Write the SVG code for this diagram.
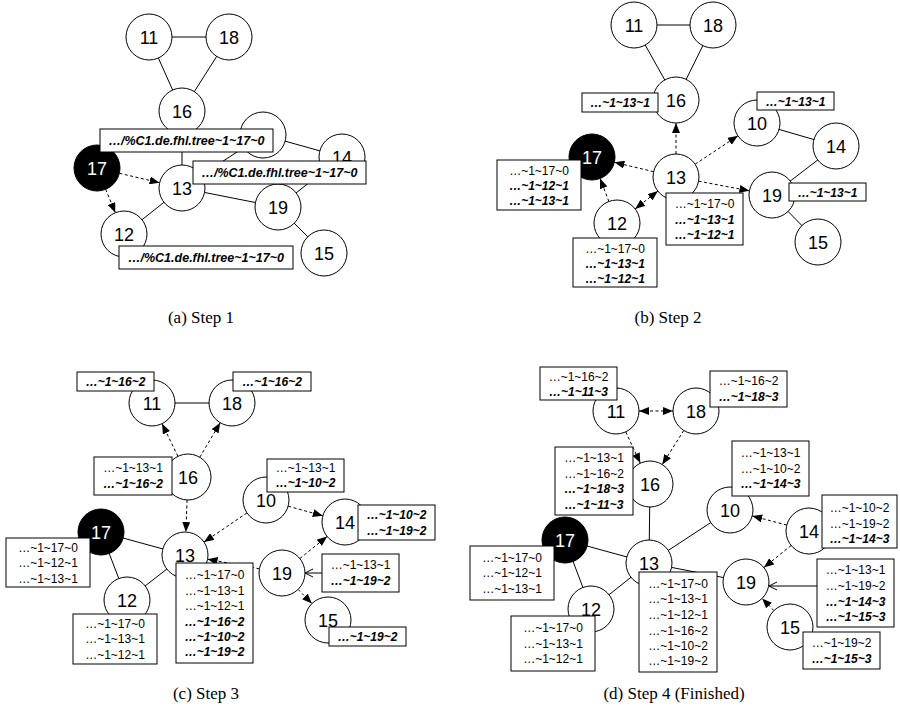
<svg xmlns="http://www.w3.org/2000/svg" width="900" height="711" viewBox="0 0 900 711">
<style>
.node circle{fill:#fff;stroke:#000;stroke-width:1}
.node text{font-family:"Liberation Sans",Arial,sans-serif;font-size:18px;text-anchor:middle;fill:#000}
.black circle{fill:#000}
.black text{fill:#fff}
.e line{stroke:#000;stroke-width:1;fill:none}
.e .d{stroke-dasharray:3,2.5;marker-end:url(#ah)}
.e .dd{stroke-dasharray:3,2.5;marker-end:url(#ah);marker-start:url(#ahs)}
.e .p{marker-end:url(#oh)}
.lb rect{fill:#fff;stroke:#000;stroke-width:1}
.lb text{font-family:"Liberation Sans",Arial,sans-serif;font-size:12px;text-anchor:middle;fill:#000}
.lb .b{font-weight:bold;font-style:italic}
.lb .big{font-size:12.5px}
.cap{font-family:"Liberation Serif","Times New Roman",serif;font-size:17px;text-anchor:middle;fill:#000}
</style>
<defs>
<marker id="ah" viewBox="0 0 10 8" refX="10" refY="4" markerWidth="10" markerHeight="8" orient="auto" markerUnits="userSpaceOnUse"><path d="M0,0 L10,4 L0,8 z" fill="#000"/></marker>
<marker id="ahs" viewBox="0 0 10 8" refX="10" refY="4" markerWidth="10" markerHeight="8" orient="auto-start-reverse" markerUnits="userSpaceOnUse"><path d="M0,0 L10,4 L0,8 z" fill="#000"/></marker>
<marker id="oh" viewBox="0 0 10 10" refX="9" refY="5" markerWidth="10" markerHeight="10" orient="auto" markerUnits="userSpaceOnUse"><path d="M1,1 L9,5 L1,9" fill="none" stroke="#000" stroke-width="1"/></marker>
</defs>
<rect width="900" height="711" fill="#fff"/>

<!-- Panel A -->
<g id="panel-a">
<g id="a-edges" class="e">
<line x1="149" y1="37" x2="229" y2="37"/>
<line x1="149" y1="37" x2="182" y2="111"/>
<line x1="229" y1="37" x2="182" y2="111"/>
<line x1="182" y1="111" x2="182" y2="188"/>
<line x1="182" y1="188" x2="263" y2="135"/>
<line x1="263" y1="135" x2="342" y2="157"/>
<line x1="342" y1="157" x2="278" y2="207"/>
<line x1="182" y1="188" x2="278" y2="207"/>
<line x1="278" y1="207" x2="324" y2="253"/>
<line x1="182" y1="188" x2="124" y2="234"/>
<line class="d" x1="119.4" y1="173.3" x2="159.6" y2="182.7"/>
<line class="d" x1="105.7" y1="189.3" x2="115.3" y2="212.7"/>
</g>
<g id="a-n11" class="node"><circle cx="149" cy="37" r="23"/><text x="149" y="43.5">11</text></g>
<g id="a-n18" class="node"><circle cx="229" cy="37" r="23"/><text x="229" y="43.5">18</text></g>
<g id="a-n16" class="node"><circle cx="182" cy="111" r="23"/><text x="182" y="117.5">16</text></g>
<g id="a-n10" class="node"><circle cx="263" cy="135" r="23"/><text x="263" y="141.5">10</text></g>
<g id="a-n14" class="node"><circle cx="342" cy="157" r="23"/><text x="342" y="163.5">14</text></g>
<g id="a-n17" class="node black"><circle cx="97" cy="168" r="23"/><text x="97" y="174.5">17</text></g>
<g id="a-n13" class="node"><circle cx="182" cy="188" r="23"/><text x="182" y="194.5">13</text></g>
<g id="a-n19" class="node"><circle cx="278" cy="207" r="23"/><text x="278" y="213.5">19</text></g>
<g id="a-n12" class="node"><circle cx="124" cy="234" r="23"/><text x="124" y="240.5">12</text></g>
<g id="a-n15" class="node"><circle cx="324" cy="253" r="23"/><text x="324" y="259.5">15</text></g>
<g id="a-labels" class="lb">
<g id="a-l1"><rect x="100" y="129" width="173" height="23"/><text class="b big" x="186.5" y="145">…/%C1.de.fhl.tree~1~17~0</text></g>
<g id="a-l2"><rect x="193" y="161" width="173" height="23"/><text class="b big" x="279.5" y="177">…/%C1.de.fhl.tree~1~17~0</text></g>
<g id="a-l3"><rect x="119" y="246" width="174" height="23"/><text class="b big" x="206" y="262">…/%C1.de.fhl.tree~1~17~0</text></g>
</g>
<text class="cap" x="201" y="323">(a) Step 1</text>
</g>

<!-- Panel B -->
<g id="panel-b">
<g id="b-edges" class="e">
<line x1="634" y1="25" x2="713" y2="25"/>
<line x1="634" y1="25" x2="676" y2="100"/>
<line x1="713" y1="25" x2="676" y2="100"/>
<line x1="757" y1="123" x2="836" y2="146"/>
<line x1="836" y1="146" x2="772" y2="195"/>
<line x1="772" y1="195" x2="818" y2="242"/>
<line class="d" x1="676" y1="154" x2="676" y2="123"/>
<line class="d" x1="653.6" y1="171.7" x2="614.4" y2="162.3"/>
<line class="d" x1="608.9" y1="201.5" x2="600.1" y2="178.5"/>
<line class="dd" x1="635.1" y1="208.9" x2="657.9" y2="191.1"/>
<line class="d" x1="695.1" y1="164.2" x2="737.9" y2="135.8"/>
<line class="d" x1="698.6" y1="181.2" x2="749.4" y2="190.8"/>
</g>
<g id="b-n11" class="node"><circle cx="634" cy="25" r="23"/><text x="634" y="31.5">11</text></g>
<g id="b-n18" class="node"><circle cx="713" cy="25" r="23"/><text x="713" y="31.5">18</text></g>
<g id="b-n16" class="node"><circle cx="676" cy="100" r="23"/><text x="676" y="106.5">16</text></g>
<g id="b-n10" class="node"><circle cx="757" cy="123" r="23"/><text x="757" y="129.5">10</text></g>
<g id="b-n14" class="node"><circle cx="836" cy="146" r="23"/><text x="836" y="152.5">14</text></g>
<g id="b-n17" class="node black"><circle cx="592" cy="157" r="23"/><text x="592" y="163.5">17</text></g>
<g id="b-n13" class="node"><circle cx="676" cy="177" r="23"/><text x="676" y="183.5">13</text></g>
<g id="b-n19" class="node"><circle cx="772" cy="195" r="23"/><text x="772" y="201.5">19</text></g>
<g id="b-n12" class="node"><circle cx="617" cy="223" r="23"/><text x="617" y="229.5">12</text></g>
<g id="b-n15" class="node"><circle cx="818" cy="242" r="23"/><text x="818" y="248.5">15</text></g>
<g id="b-labels" class="lb">
<g id="b-l16"><rect x="582" y="93" width="76" height="19"/><text class="b" x="620" y="107">…~1~13~1</text></g>
<g id="b-l10"><rect x="757" y="92" width="77" height="18"/><text class="b" x="795.5" y="105.5">…~1~13~1</text></g>
<g id="b-l19"><rect x="789" y="183" width="77" height="18"/><text class="b" x="827.5" y="196.5">…~1~13~1</text></g>
<g id="b-l17"><rect x="497" y="160" width="84" height="50"/><text x="539" y="174.5">…~1~17~0</text><text class="b" x="539" y="190">…~1~12~1</text><text class="b" x="539" y="205">…~1~13~1</text></g>
<g id="b-l12"><rect x="573" y="238" width="84" height="49"/><text x="615" y="252.5">…~1~17~0</text><text class="b" x="615" y="267.5">…~1~13~1</text><text class="b" x="615" y="282.5">…~1~12~1</text></g>
<g id="b-l13"><rect x="666" y="193" width="77" height="52"/><text x="704.5" y="208">…~1~17~0</text><text class="b" x="704.5" y="223.5">…~1~13~1</text><text class="b" x="704.5" y="238.5">…~1~12~1</text></g>
</g>
<text class="cap" x="668" y="323">(b) Step 2</text>
</g>

<!-- Panel C -->
<g id="panel-c">
<g id="c-edges" class="e">
<line x1="152" y1="403" x2="232" y2="403"/>
<line x1="101" y1="532" x2="185" y2="555"/>
<line x1="101" y1="532" x2="127" y2="600"/>
<line x1="127" y1="600" x2="185" y2="555"/>
<line class="d" x1="177.9" y1="456.3" x2="162.1" y2="423.7"/>
<line class="d" x1="199.8" y1="457.2" x2="220.2" y2="422.8"/>
<line class="d" x1="187.1" y1="500" x2="185.9" y2="532"/>
<line class="d" x1="247" y1="512.9" x2="204" y2="542.1"/>
<line class="d" x1="288.2" y1="506.2" x2="322.8" y2="515.8"/>
<line class="d" x1="259.4" y1="568.8" x2="207.6" y2="559.2"/>
<line class="d" x1="299.9" y1="558.5" x2="327.1" y2="536.5"/>
<line class="d" x1="298.1" y1="589.4" x2="311.9" y2="603.6"/>
<line class="p" x1="322" y1="573" x2="305" y2="573"/>
</g>
<g id="c-n11" class="node"><circle cx="152" cy="403" r="23"/><text x="152" y="409.5">11</text></g>
<g id="c-n18" class="node"><circle cx="232" cy="403" r="23"/><text x="232" y="409.5">18</text></g>
<g id="c-n16" class="node"><circle cx="188" cy="477" r="23"/><text x="188" y="483.5">16</text></g>
<g id="c-n10" class="node"><circle cx="266" cy="500" r="23"/><text x="266" y="506.5">10</text></g>
<g id="c-n14" class="node"><circle cx="345" cy="522" r="23"/><text x="345" y="528.5">14</text></g>
<g id="c-n17" class="node black"><circle cx="101" cy="532" r="23"/><text x="101" y="538.5">17</text></g>
<g id="c-n13" class="node"><circle cx="185" cy="555" r="23"/><text x="185" y="561.5">13</text></g>
<g id="c-n19" class="node"><circle cx="282" cy="573" r="23"/><text x="282" y="579.5">19</text></g>
<g id="c-n12" class="node"><circle cx="127" cy="600" r="23"/><text x="127" y="606.5">12</text></g>
<g id="c-n15" class="node"><circle cx="328" cy="620" r="23"/><text x="328" y="626.5">15</text></g>
<g id="c-labels" class="lb">
<g id="c-l11"><rect x="77" y="372" width="77" height="19"/><text class="b" x="115.5" y="386">…~1~16~2</text></g>
<g id="c-l18"><rect x="233" y="372" width="78" height="19"/><text class="b" x="272" y="386">…~1~16~2</text></g>
<g id="c-l16"><rect x="94" y="457" width="78" height="38"/><text x="133" y="472">…~1~13~1</text><text class="b" x="133" y="487.5">…~1~16~2</text></g>
<g id="c-l10"><rect x="267" y="459" width="77" height="33"/><text x="305.5" y="471.5">…~1~13~1</text><text class="b" x="305.5" y="487">…~1~10~2</text></g>
<g id="c-l14"><rect x="358" y="505" width="77" height="35"/><text class="b" x="396.5" y="519">…~1~10~2</text><text class="b" x="396.5" y="534.5">…~1~19~2</text></g>
<g id="c-l19"><rect x="322" y="554" width="77" height="38"/><text x="360.5" y="569">…~1~13~1</text><text class="b" x="360.5" y="584.5">…~1~19~2</text></g>
<g id="c-l15"><rect x="329" y="627" width="77" height="19"/><text class="b" x="367.5" y="641">…~1~19~2</text></g>
<g id="c-l17"><rect x="6" y="538" width="84" height="49"/><text x="48" y="551.5">…~1~17~0</text><text x="48" y="567">…~1~12~1</text><text x="48" y="582.5">…~1~13~1</text></g>
<g id="c-l12"><rect x="73" y="614" width="84" height="50"/><text x="115" y="627.5">…~1~17~0</text><text x="115" y="643">…~1~13~1</text><text x="115" y="658.5">…~1~12~1</text></g>
<g id="c-l13"><rect x="176" y="563" width="77" height="100"/><text x="214.5" y="579">…~1~17~0</text><text x="214.5" y="594.5">…~1~13~1</text><text x="214.5" y="610">…~1~12~1</text><text class="b" x="214.5" y="625.5">…~1~16~2</text><text class="b" x="214.5" y="641">…~1~10~2</text><text class="b" x="214.5" y="656">…~1~19~2</text></g>
</g>
<text class="cap" x="206" y="699">(c) Step 3</text>
</g>

<!-- Panel D -->
<g id="panel-d">
<g id="d-edges" class="e">
<line x1="650" y1="484" x2="649" y2="563"/>
<line x1="649" y1="563" x2="730" y2="510"/>
<line x1="649" y1="563" x2="746" y2="582"/>
<line x1="565" y1="540" x2="649" y2="563"/>
<line x1="565" y1="540" x2="591" y2="609"/>
<line x1="591" y1="609" x2="649" y2="563"/>
<line class="dd" x1="639" y1="411" x2="673" y2="411"/>
<line class="d" x1="625.7" y1="431.9" x2="640.3" y2="463.1"/>
<line class="d" x1="683.7" y1="430.5" x2="662.3" y2="464.5"/>
<line class="d" x1="786.8" y1="525.1" x2="752.2" y2="515.9"/>
<line class="d" x1="791.1" y1="545.5" x2="763.9" y2="567.5"/>
<line class="d" x1="773.9" y1="610.6" x2="762.1" y2="598.4"/>
<line class="p" x1="817" y1="586" x2="769" y2="586"/>
</g>
<g id="d-n11" class="node"><circle cx="616" cy="411" r="23"/><text x="616" y="417.5">11</text></g>
<g id="d-n18" class="node"><circle cx="696" cy="411" r="23"/><text x="696" y="417.5">18</text></g>
<g id="d-n16" class="node"><circle cx="650" cy="484" r="23"/><text x="650" y="490.5">16</text></g>
<g id="d-n10" class="node"><circle cx="730" cy="510" r="23"/><text x="730" y="516.5">10</text></g>
<g id="d-n14" class="node"><circle cx="809" cy="531" r="23"/><text x="809" y="537.5">14</text></g>
<g id="d-n17" class="node black"><circle cx="565" cy="540" r="23"/><text x="565" y="546.5">17</text></g>
<g id="d-n13" class="node"><circle cx="649" cy="563" r="23"/><text x="649" y="569.5">13</text></g>
<g id="d-n19" class="node"><circle cx="746" cy="582" r="23"/><text x="746" y="588.5">19</text></g>
<g id="d-n12" class="node"><circle cx="591" cy="609" r="23"/><text x="591" y="615.5">12</text></g>
<g id="d-n15" class="node"><circle cx="790" cy="627" r="23"/><text x="790" y="633.5">15</text></g>
<g id="d-labels" class="lb">
<g id="d-l11"><rect x="540" y="367" width="77" height="33"/><text x="578.5" y="381">…~1~16~2</text><text class="b" x="578.5" y="395.5">…~1~11~3</text></g>
<g id="d-l18"><rect x="710" y="371" width="77" height="36"/><text x="748.5" y="385">…~1~16~2</text><text class="b" x="748.5" y="400.5">…~1~18~3</text></g>
<g id="d-l16"><rect x="555" y="447" width="78" height="68"/><text x="594" y="462">…~1~13~1</text><text x="594" y="477.5">…~1~16~2</text><text class="b" x="594" y="493">…~1~18~3</text><text class="b" x="594" y="509">…~1~11~3</text></g>
<g id="d-l10"><rect x="732" y="441" width="77" height="55"/><text x="770.5" y="457">…~1~13~1</text><text x="770.5" y="472.5">…~1~10~2</text><text class="b" x="770.5" y="488">…~1~14~3</text></g>
<g id="d-l14"><rect x="822" y="495" width="75" height="53"/><text x="859.5" y="512">…~1~10~2</text><text x="859.5" y="527.5">…~1~19~2</text><text class="b" x="859.5" y="543">…~1~14~3</text></g>
<g id="d-l19"><rect x="817" y="559" width="77" height="68"/><text x="855.5" y="574">…~1~13~1</text><text x="855.5" y="590">…~1~19~2</text><text class="b" x="855.5" y="605.5">…~1~14~3</text><text class="b" x="855.5" y="621">…~1~15~3</text></g>
<g id="d-l15"><rect x="803" y="632" width="77" height="37"/><text x="841.5" y="646.5">…~1~19~2</text><text class="b" x="841.5" y="663">…~1~15~3</text></g>
<g id="d-l17"><rect x="470" y="546" width="84" height="54"/><text x="512" y="562">…~1~17~0</text><text x="512" y="577">…~1~12~1</text><text x="512" y="592.5">…~1~13~1</text></g>
<g id="d-l12"><rect x="511" y="616" width="84" height="55"/><text x="553" y="632">…~1~17~0</text><text x="553" y="647.5">…~1~13~1</text><text x="553" y="663">…~1~12~1</text></g>
<g id="d-l13"><rect x="639" y="572" width="78" height="100"/><text x="678" y="588">…~1~17~0</text><text x="678" y="603">…~1~13~1</text><text x="678" y="618.5">…~1~12~1</text><text x="678" y="634.5">…~1~16~2</text><text x="678" y="649.5">…~1~10~2</text><text x="678" y="665">…~1~19~2</text></g>
</g>
<text class="cap" x="674" y="699">(d) Step 4 (Finished)</text>
</g>
</svg>
